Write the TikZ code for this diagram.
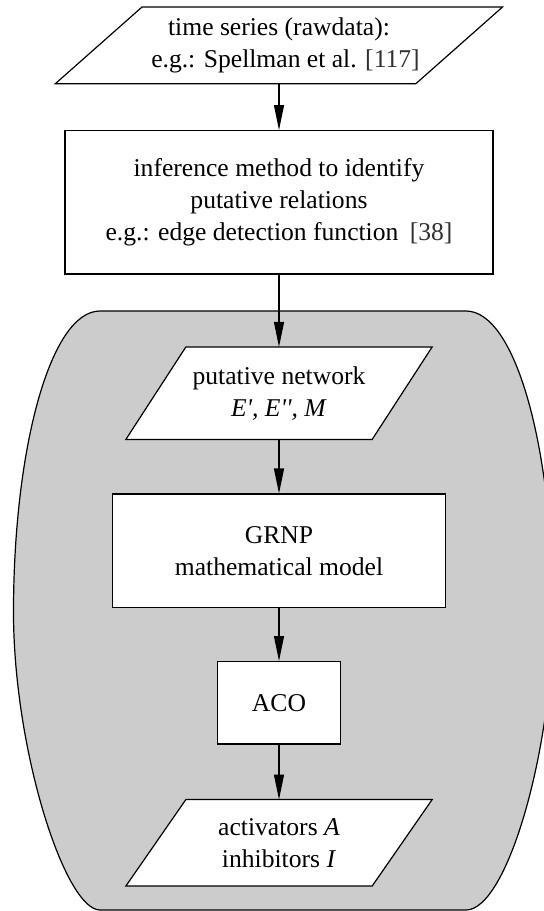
\documentclass[tikz,border=0pt]{standalone}
\usepackage{fontspec}
\setmainfont{Liberation Serif}
\usetikzlibrary{arrows.meta}

\definecolor{clusterfill}{RGB}{204,204,204}
\definecolor{citegray}{RGB}{48,48,48}

\pgfdeclarelayer{base}
\pgfdeclarelayer{shapes}
\pgfsetlayers{base,shapes,main}

% citation number in brackets
\newcommand\refno[1]{\textcolor{citegray}{[#1]}}
% parallelogram outline around a (borderless) node; #2 = half of the slant
\newcommand\slantbox[2]{%
  \begin{pgfonlayer}{shapes}
    \draw[outline, fill=white]
      ([xshift=#2]#1.north west) -- ([xshift=#2]#1.north east) --
      ([xshift=-#2]#1.south east) -- ([xshift=-#2]#1.south west) -- cycle;
  \end{pgfonlayer}}

\begin{document}
\begin{tikzpicture}[x=0.5pt, y=-0.5pt,
  every node/.style={font=\fontsize{12.8pt}{16pt}\selectfont, align=center, inner sep=0pt},
  outline/.style={draw=black, line width=0.6pt},
  stepbox/.style={outline, fill=white},
  arr/.style={line width=0.6pt, -{Triangle[length=12.5pt, width=5pt]}}]

\useasboundingbox (0,0) rectangle (544,911);
\clip (0,0) rectangle (544,911);

% flow nodes
\node[minimum width=179.85pt, minimum height=38pt] (series) at (279,45.3)
  {time series (rawdata):\\\hspace*{6.5pt}e.g.: Spellman et al. \refno{117}};
\node[stepbox, minimum width=214pt, minimum height=71.65pt] (infer) at (279,202.3)
  {inference method to identify\\putative relations\\e.g.: edge detection function\hspace{2.5pt} \refno{38}};
\node[minimum width=122.75pt, minimum height=45.85pt] (putnet) at (279,393.2)
  {putative network\\\textit{E\textquotesingle, E\textquotesingle\textquotesingle, M}};
\node[stepbox, minimum width=166.2pt, minimum height=56.65pt] (grnp) at (279,550.7)
  {GRNP\\mathematical model};
\node[stepbox, minimum width=61.5pt, minimum height=41.2pt] (aco) at (279,702.8)
  {ACO};
\node[minimum width=122.75pt, minimum height=42.85pt] (result) at (279,842.8)
  {activators \textit{A}\\inhibitors \textit{I}};

\slantbox{series}{21.7pt}
\slantbox{putnet}{15pt}
\slantbox{result}{15pt}

% shaded region holding the optimisation steps
\begin{pgfonlayer}{base}
  \draw[outline, fill=clusterfill]
    (100,311) -- (466,311)
    .. controls (516,311) and (553,450) .. (553,612)
    .. controls (553,750) and (507,910) .. (466,910)
    -- (100,910)
    .. controls (65,910) and (13.5,750) .. (13.5,612)
    .. controls (13.5,450) and (50,311) .. (100,311) -- cycle;
\end{pgfonlayer}

% connectors
\draw[arr] (series.south) -- (infer.north);
\draw[arr] (infer.south) -- (putnet.north);
\draw[arr] (putnet.south) -- (grnp.north);
\draw[arr] (grnp.south) -- (aco.north);
\draw[arr] (aco.south) -- (result.north);
\end{tikzpicture}
\end{document}
